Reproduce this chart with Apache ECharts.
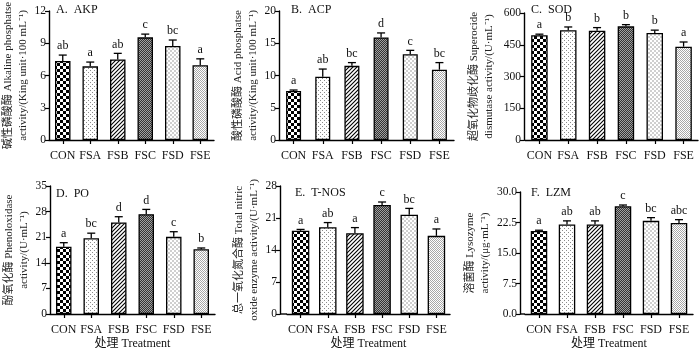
<!DOCTYPE html>
<html>
<head>
<meta charset="utf-8">
<script src="https://cdn.jsdelivr.net/npm/echarts@6/dist/echarts.min.js"></script>
<style>
  html, body { margin: 0; padding: 0; background: #fff; }
  #chart { width: 700px; height: 348px; }
</style>
</head>
<body>
<div id="chart"></div>
<script>
// Treatment groups
const categories = ['CON', 'FSA', 'FSB', 'FSC', 'FSD', 'FSE'];

// A. AKP (King unit·100 mL-1)
const akpMean = [7.35, 6.85, 7.5, 9.55, 8.74, 6.95];
const akpErr  = [0.55, 0.4, 0.56, 0.3, 0.56, 0.6];
const akpSig  = ['ab', 'a', 'ab', 'c', 'bc', 'a'];

// B. ACP (King unit·100 mL-1)
const acpMean = [7.6, 9.8, 11.5, 15.9, 13.3, 10.9];
const acpErr  = [0.15, 1.2, 0.5, 0.7, 0.6, 1.1];
const acpSig  = ['a', 'ab', 'bc', 'd', 'c', 'bc'];

// C. SOD (U·mL-1)
const sodMean = [495, 519, 516, 537, 506, 441];
const sodErr  = [5, 15, 15, 8, 13, 22];
const sodSig  = ['a', 'b', 'b', 'b', 'b', 'a'];

// D. PO (U·mL-1)
const poMean = [18.4, 20.7, 25.0, 27.3, 21.1, 17.7];
const poErr  = [1.1, 1.4, 1.6, 1.3, 1.4, 0.35];
const poSig  = ['a', 'bc', 'd', 'd', 'c', 'b'];

// E. T-NOS (U·mL-1)
const nosMean = [18.2, 19.0, 17.65, 23.85, 21.7, 17.1];
const nosErr  = [0.3, 1.0, 1.25, 0.65, 1.4, 1.5];
const nosSig  = ['a', 'ab', 'a', 'c', 'bc', 'a'];

// F. LZM (μg·mL-1)
const lzmMean = [20.4, 22.0, 22.0, 26.5, 22.9, 22.4];
const lzmErr  = [0.2, 0.9, 0.9, 0.3, 0.8, 0.8];
const lzmSig  = ['a', 'ab', 'ab', 'c', 'bc', 'abc'];

const SERIF = '"Liberation Serif", "Times New Roman", "Noto Sans CJK SC", serif';

// Fill patterns, one per treatment
function tile(size, draw) {
  const c = document.createElement('canvas');
  c.width = c.height = size;
  const g = c.getContext('2d');
  g.fillStyle = '#fff';
  g.fillRect(0, 0, size, size);
  draw(g, size);
  return c;
}
const patterns = [
  // coarse black checkerboard
  tile(6, g => { g.fillStyle = '#000'; g.fillRect(0, 0, 3, 3); g.fillRect(3, 3, 3, 3); }),
  // sparse grey dots
  tile(4, g => { g.fillStyle = '#8a8a8a'; g.fillRect(0, 0, 1, 1); g.fillRect(2, 2, 1, 1); }),
  // diagonal hatching
  tile(4, (g, s) => {
    g.strokeStyle = '#000'; g.lineWidth = 1.1;
    g.beginPath();
    g.moveTo(0, s); g.lineTo(s, 0);
    g.moveTo(-1, 1); g.lineTo(1, -1);
    g.moveTo(s - 1, s + 1); g.lineTo(s + 1, s - 1);
    g.stroke();
  }),
  // dense dark checker
  tile(2, g => { g.fillStyle = '#333'; g.fillRect(0, 0, 2, 2); g.fillStyle = '#a0a0a0'; g.fillRect(0, 0, 1, 1); g.fillRect(1, 1, 1, 1); }),
  // light grey checker
  tile(4, g => { g.fillStyle = '#cfcfcf'; g.fillRect(0, 0, 2, 2); g.fillRect(2, 2, 2, 2); }),
  // medium grey stipple
  tile(2, g => { g.fillStyle = '#a8a8a8'; g.fillRect(0, 0, 1, 1); g.fillRect(1, 1, 1, 1); })
];

// Panel layout: grid box, y-axis offset from the first band, title anchor, bar width
const panels = [
  { title: 'A.  AKP',   mean: akpMean, err: akpErr, sig: akpSig, max: 12,  interval: 3,   fmt: v => v,
    name: '碱性磷酸酶 Alkaline phosphatse\nactivity/(King unit·100 mL⁻¹)',
    grid: { left: 49, top: 11, width: 165, height: 129 }, yOffset: 0, gap: 18,
    titleX: 56, titleY: 11, barWidth: 15.5, xName: '' },
  { title: 'B.  ACP',   mean: acpMean, err: acpErr, sig: acpSig, max: 20,  interval: 5,   fmt: v => v,
    name: '酸性磷酸酶 Acid phosphatse\nactivity/(King unit·100 mL⁻¹)',
    grid: { left: 279, top: 11, width: 175, height: 129 }, yOffset: 0, gap: 18,
    titleX: 291, titleY: 11, barWidth: 15, xName: '' },
  { title: 'C.  SOD',   mean: sodMean, err: sodErr, sig: sodSig, max: 600, interval: 150, fmt: v => v,
    name: '超氧化物歧化酶 Superocide\ndismutase activity/(U·mL⁻¹)',
    grid: { left: 525, top: 13, width: 173, height: 127 }, yOffset: 1, gap: 27,
    titleX: 531, titleY: 11, barWidth: 16.5, xName: '' },
  { title: 'D.  PO',    mean: poMean, err: poErr, sig: poSig, max: 35,  interval: 7,   fmt: v => v,
    name: '酚氧化酶 Phenoloxidase\nactivity/(U·mL⁻¹)',
    grid: { left: 50, top: 186, width: 165, height: 128 }, yOffset: 0, gap: 18,
    titleX: 56, titleY: 195, barWidth: 15.5, xName: '处理 Treatment' },
  { title: 'E.  T-NOS', mean: nosMean, err: nosErr, sig: nosSig, max: 28,  interval: 7,   fmt: v => v,
    name: '总一氧化氮合酶 Total nitric\noxide enzyme activity/(U·mL⁻¹)',
    grid: { left: 287, top: 186, width: 163, height: 128 }, yOffset: 7, gap: 18,
    titleX: 295, titleY: 194, barWidth: 17.5, xName: '处理 Treatment' },
  { title: 'F.  LZM',   mean: lzmMean, err: lzmErr, sig: lzmSig, max: 30,  interval: 7.5, fmt: v => v.toFixed(1),
    name: '溶菌酶 Lysozyme\nactivity/(μg·mL⁻¹)',
    grid: { left: 525, top: 192, width: 168, height: 122 }, yOffset: 5, gap: 26,
    titleX: 531, titleY: 194, barWidth: 16.5, xName: '处理 Treatment' }
];

const axisLine = { show: true, lineStyle: { color: '#000', width: 1.4 } };
const axisTick = { show: true, length: 4, lineStyle: { color: '#000', width: 1.2 } };

const option = {
  animation: false,
  backgroundColor: '#fff',
  title: [],
  grid: [],
  xAxis: [],
  yAxis: [],
  series: [],
  graphic: []
};

panels.forEach((p, i) => {
  option.grid.push(Object.assign({ containLabel: false, outerBoundsMode: 'none' }, p.grid));
  option.title.push({
    text: p.title,
    left: p.titleX,
    top: p.titleY - 7,
    padding: 0,
    textStyle: { fontFamily: SERIF, fontSize: 12, fontWeight: 'normal', color: '#111' }
  });
  option.xAxis.push({
    type: 'category', gridIndex: i, data: categories,
    axisLine, axisTick: Object.assign({ alignWithLabel: true }, axisTick),
    axisLabel: { fontFamily: SERIF, fontSize: 12, color: '#111', margin: 10, interval: 0 },
    name: p.xName, nameLocation: 'middle', nameGap: 24,
    nameTextStyle: { fontFamily: SERIF, fontSize: 12, color: '#111' }
  });
  option.yAxis.push({
    type: 'value', gridIndex: i, min: 0, max: p.max, interval: p.interval, offset: p.yOffset,
    axisLine, axisTick, splitLine: { show: false },
    axisLabel: { fontFamily: SERIF, fontSize: 11.5, color: '#111', margin: 3, formatter: p.fmt },
    name: p.name, nameLocation: 'middle', nameRotate: 90, nameGap: p.gap,
    nameTextStyle: { fontFamily: SERIF, fontSize: 11, lineHeight: 15, color: '#222', align: 'center' }
  });
  // x-axis baseline carried back to the offset y-axis
  if (p.yOffset > 0) {
    const yb = p.grid.top + p.grid.height;
    option.graphic.push({
      type: 'line', silent: true,
      shape: { x1: p.grid.left - p.yOffset, y1: yb, x2: p.grid.left, y2: yb },
      style: { stroke: '#000', lineWidth: 1.4 }
    });
  }
  option.series.push({
    type: 'bar', xAxisIndex: i, yAxisIndex: i, barWidth: p.barWidth,
    data: p.mean.map((v, k) => ({
      value: v,
      itemStyle: { color: { image: patterns[k], repeat: 'repeat' }, borderColor: '#000', borderWidth: 1.3 }
    }))
  });
  option.series.push({
    type: 'custom', xAxisIndex: i, yAxisIndex: i, z: 5,
    data: p.mean.map((v, k) => [k, v, v + p.err[k]]),
    renderItem: (params, api) => {
      const base = api.coord([api.value(0), api.value(1)]);
      const top = api.coord([api.value(0), api.value(2)]);
      const half = 4;
      const stroke = { stroke: '#000', lineWidth: 1.3 };
      return {
        type: 'group',
        children: [
          { type: 'line', shape: { x1: base[0], y1: base[1], x2: top[0], y2: top[1] }, style: stroke },
          { type: 'line', shape: { x1: top[0] - half, y1: top[1], x2: top[0] + half, y2: top[1] }, style: stroke },
          { type: 'text', x: top[0], y: top[1] - 3,
            style: { text: p.sig[params.dataIndex], align: 'center', verticalAlign: 'bottom',
                     font: '12px ' + SERIF, fill: '#111' } }
        ]
      };
    }
  });
});

const chart = echarts.init(document.getElementById('chart'), null, { renderer: 'canvas' });
chart.setOption(option);
</script>
</body>
</html>
